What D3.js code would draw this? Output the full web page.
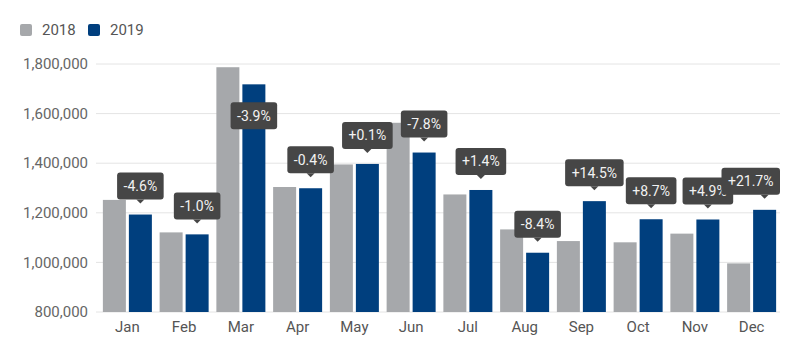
<!DOCTYPE html>
<html>
<head>
<meta charset="utf-8">
<script src="https://cdn.jsdelivr.net/npm/d3@7/dist/d3.min.js"></script>
<style>
  html, body { margin: 0; padding: 0; background: #fff; }
  svg { display: block; font-family: Roboto, "Noto Sans", sans-serif; }
</style>
</head>
<body>
<svg id="chart" width="800" height="346"></svg>
<script>
const months = ["Jan","Feb","Mar","Apr","May","Jun","Jul","Aug","Sep","Oct","Nov","Dec"];
const seriesNames = ["2018", "2019"];
const values2018 = [1252000, 1121000, 1787000, 1304000, 1395000, 1563000, 1274000, 1133000, 1086000, 1081000, 1116000, 996000];
const values2019 = [1193000, 1113000, 1718000, 1299000, 1397000, 1443000, 1292000, 1039000, 1247000, 1174000, 1173000, 1212000];
const changeLabels = ["-4.6%","-1.0%","-3.9%","-0.4%","+0.1%","-7.8%","+1.4%","-8.4%","+14.5%","+8.7%","+4.9%","+21.7%"];
const yTicks = [800000, 1000000, 1200000, 1400000, 1600000, 1800000];
const colors = { "2018": "#a6a8ab", "2019": "#003f7e" };

const svg = d3.select("#chart");
const plotLeft = 96, plotRight = 780, plotTop = 64, plotBottom = 312;

const y = d3.scaleLinear().domain([800000, 1800000]).range([plotBottom, plotTop]);
const x0 = d3.scaleBand().domain(months).range([99, 780]).padding(0);
const x1 = d3.scaleBand().domain(seriesNames)
  .range([(x0.bandwidth() - 49) / 2, (x0.bandwidth() + 49) / 2])
  .paddingInner(0.1154).paddingOuter(0);

// gridlines
svg.append("g").selectAll("line").data(yTicks).join("line")
  .attr("x1", plotLeft).attr("x2", plotRight)
  .attr("y1", d => y(d)).attr("y2", d => y(d))
  .attr("stroke", "#e4e4e4").attr("stroke-width", 1);

// y axis labels
const fmt = d3.format(",");
svg.append("g").selectAll("text").data(yTicks).join("text")
  .attr("x", 88).attr("y", d => y(d)).attr("dy", "0.35em")
  .attr("text-anchor", "end").attr("font-size", 15).attr("fill", "#666")
  .text(d => fmt(d));

// bars
const rows = months.map((m, i) => ({ m, i, v: { "2018": values2018[i], "2019": values2019[i] } }));
const groups = svg.append("g").selectAll("g").data(rows).join("g")
  .attr("transform", d => `translate(${x0(d.m)},0)`);
groups.selectAll("rect").data(d => seriesNames.map(s => ({ s, v: d.v[s] }))).join("rect")
  .attr("x", d => x1(d.s)).attr("width", x1.bandwidth())
  .attr("y", d => y(d.v)).attr("height", d => plotBottom - y(d.v))
  .attr("fill", d => colors[d.s]);

// x axis labels
svg.append("g").selectAll("text").data(months).join("text")
  .attr("x", d => x0(d) + x0.bandwidth() / 2).attr("y", 327).attr("dy", "0.35em")
  .attr("text-anchor", "middle").attr("font-size", 15).attr("fill", "#555")
  .text(d => d);

// change labels
const lblG = svg.append("g");
rows.forEach((d, i) => {
  const cx = x0(d.m) + x1("2019") + x1.bandwidth() / 2;
  const top = y(d.v["2019"]);
  const boxH = 27, tipGap = 11, tipH = 4;
  let boxBottom = top - tipGap - tipH;
  let boxTop = boxBottom - boxH;
  let showTip = true;
  if (boxTop < plotTop - 4) { boxTop = top + 18; boxBottom = boxTop + boxH; showTip = false; }
  const g = lblG.append("g");
  const t = g.append("text").attr("font-size", 14).attr("fill", "#f2f2f2")
    .attr("text-anchor", "middle").attr("dy", "0.35em").text(changeLabels[i]);
  const w = t.node().getComputedTextLength() + 13;
  let bx = cx - w / 2;
  if (bx + w > plotRight) bx = plotRight - w;
  g.insert("rect", "text").attr("x", bx).attr("y", boxTop).attr("width", w).attr("height", boxH)
    .attr("rx", 3).attr("fill", "#464646");
  if (showTip) {
    g.insert("path", "text")
      .attr("d", `M${cx - 4},${boxBottom} L${cx},${boxBottom + tipH} L${cx + 4},${boxBottom} Z`)
      .attr("fill", "#464646");
  }
  t.attr("x", bx + w / 2).attr("y", boxTop + boxH / 2);
});

// legend
const legend = svg.append("g");
const legX = [20, 88];
seriesNames.forEach((s, i) => {
  legend.append("rect").attr("x", legX[i]).attr("y", 24).attr("width", 12).attr("height", 12)
    .attr("rx", 2).attr("fill", colors[s]);
  legend.append("text").attr("x", legX[i] + 22).attr("y", 30).attr("dy", "0.35em")
    .attr("font-size", 15).attr("fill", "#555").text(s);
});
</script>
</body>
</html>
